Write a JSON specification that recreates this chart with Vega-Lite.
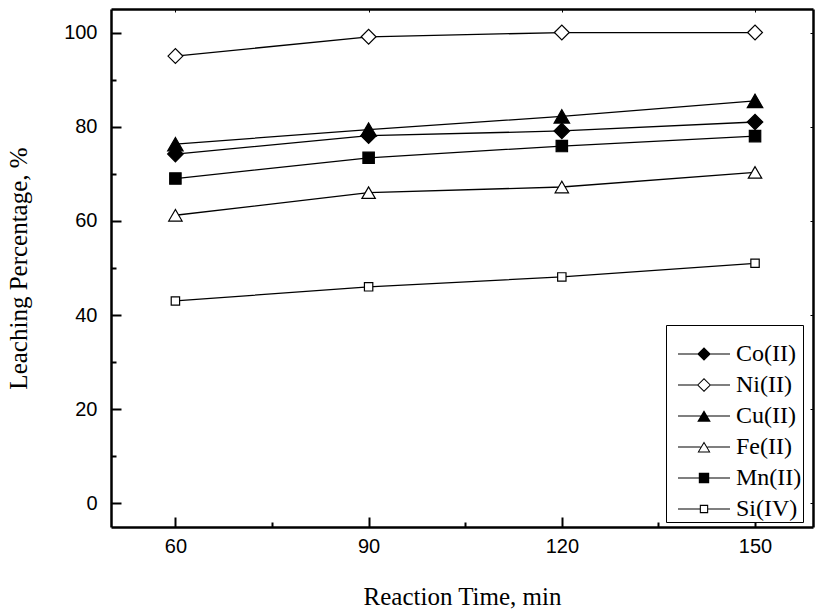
{
  "$schema": "https://vega.github.io/schema/vega-lite/v6.json",
  "width": 702,
  "height": 518,
  "autosize": {"type": "none"},
  "padding": {"left": 111, "top": 9, "right": 8, "bottom": 86},
  "background": "white",
  "config": {
    "view": {"stroke": null},
    "axis": {
      "labelColor": "black",
      "titleColor": "black",
      "domainColor": "black",
      "tickColor": "black",
      "grid": false,
      "titleFontWeight": "normal",
      "labelFont": "Liberation Sans",
      "titleFont": "Liberation Serif"
    }
  },
  "data": {
    "values": [
      {"series": "Co(II)", "time": 60, "value": 74.2},
      {"series": "Co(II)", "time": 90, "value": 78.1},
      {"series": "Co(II)", "time": 120, "value": 79.1},
      {"series": "Co(II)", "time": 150, "value": 81.0},
      {"series": "Ni(II)", "time": 60, "value": 95.0},
      {"series": "Ni(II)", "time": 90, "value": 99.1},
      {"series": "Ni(II)", "time": 120, "value": 100.0},
      {"series": "Ni(II)", "time": 150, "value": 100.0},
      {"series": "Cu(II)", "time": 60, "value": 76.3},
      {"series": "Cu(II)", "time": 90, "value": 79.4},
      {"series": "Cu(II)", "time": 120, "value": 82.2},
      {"series": "Cu(II)", "time": 150, "value": 85.5},
      {"series": "Fe(II)", "time": 60, "value": 61.2},
      {"series": "Fe(II)", "time": 90, "value": 66.0},
      {"series": "Fe(II)", "time": 120, "value": 67.2},
      {"series": "Fe(II)", "time": 150, "value": 70.3},
      {"series": "Mn(II)", "time": 60, "value": 69.0},
      {"series": "Mn(II)", "time": 90, "value": 73.4},
      {"series": "Mn(II)", "time": 120, "value": 75.9},
      {"series": "Mn(II)", "time": 150, "value": 78.0},
      {"series": "Si(IV)", "time": 60, "value": 43.0},
      {"series": "Si(IV)", "time": 90, "value": 46.0},
      {"series": "Si(IV)", "time": 120, "value": 48.1},
      {"series": "Si(IV)", "time": 150, "value": 51.0}
    ]
  },
  "resolve": {
    "axis": {"x": "independent", "y": "independent"},
    "scale": {"shape": "independent"},
    "legend": {"shape": "independent"}
  },
  "layer": [
    {
      "mark": {"type": "line", "stroke": "black", "strokeWidth": 1.3},
      "encoding": {
        "x": {
          "field": "time", "type": "quantitative",
          "scale": {"domain": [50, 159], "nice": false, "zero": false},
          "axis": {
            "orient": "bottom",
            "title": "Reaction Time, min",
            "values": [60, 75, 90, 105, 120, 135, 150],
            "labelExpr": "datum.value % 30 === 0 ? datum.label : ''",
            "tickSize": {"condition": {"test": "datum.value % 30 === 0", "value": -10}, "value": -5},
            "tickWidth": 2,
            "domainWidth": 2.5,
            "labelFontSize": 20,
            "labelPadding": 19,
            "labelFlush": false,
            "titleFontSize": 25,
            "titlePadding": 28
          }
        },
        "y": {
          "field": "value", "type": "quantitative",
          "scale": {"domain": [-5, 105], "nice": false, "zero": false},
          "axis": {
            "orient": "left",
            "title": "Leaching Percentage, %",
            "values": [0, 10, 20, 30, 40, 50, 60, 70, 80, 90, 100],
            "labelExpr": "datum.value % 20 === 0 ? datum.label : ''",
            "tickSize": {"condition": {"test": "datum.value % 20 === 0", "value": -10}, "value": -5},
            "tickWidth": 2,
            "domainWidth": 2.5,
            "labelFontSize": 20,
            "labelPadding": 24,
            "labelFlush": false,
            "titleFontSize": 25,
            "titlePadding": 32
          }
        },
        "detail": {"field": "series"}
      }
    },
    {
      "mark": {"type": "point", "filled": true, "stroke": "black", "strokeWidth": 1.2, "opacity": 1},
      "encoding": {
        "x": {
          "field": "time", "type": "quantitative",
          "axis": {
            "orient": "top",
            "title": null,
            "labels": false,
            "values": [60, 90, 120, 150],
            "tickSize": -3,
            "tickWidth": 1,
            "domainWidth": 2.5
          }
        },
        "y": {
          "field": "value", "type": "quantitative",
          "axis": {
            "orient": "right",
            "title": null,
            "labels": false,
            "values": [0, 20, 40, 60, 80, 100],
            "tickSize": -3,
            "tickWidth": 1,
            "domainWidth": 2.5
          }
        },
        "shape": {
          "field": "series", "type": "nominal",
          "scale": {
            "domain": ["Co(II)", "Ni(II)", "Cu(II)", "Fe(II)", "Mn(II)", "Si(IV)"],
            "range": ["diamond", "diamond", "triangle-up", "triangle-up", "square", "square"]
          },
          "legend": null
        },
        "fill": {
          "field": "series", "type": "nominal",
          "scale": {
            "domain": ["Ni(II)", "Fe(II)", "Si(IV)", "Co(II)", "Cu(II)", "Mn(II)"],
            "range": ["white", "white", "white", "black", "black", "black"]
          },
          "legend": null
        },
        "size": {
          "field": "series", "type": "nominal",
          "scale": {
            "type": "ordinal",
            "domain": ["Si(IV)", "Mn(II)", "Fe(II)", "Cu(II)", "Ni(II)", "Co(II)"],
            "range": [70, 130, 180, 240, 220, 240]
          },
          "legend": null
        }
      }
    },
    {
      "transform": [{"filter": "false"}],
      "mark": {"type": "point", "filled": true, "fill": "black", "stroke": "black", "strokeWidth": 1.2},
      "encoding": {
        "x": {"field": "time", "type": "quantitative", "axis": null},
        "y": {"field": "value", "type": "quantitative", "axis": null},
        "shape": {
          "field": "series", "type": "nominal",
          "scale": {
            "domain": ["Co(II)", "Ni(II)", "Cu(II)", "Fe(II)", "Mn(II)", "Si(IV)"],
            "range": [
              "M-2.6,-0.06H-0.6V0.06H-2.6ZM0.6,-0.06H2.6V0.06H0.6ZM0,-0.68L0.68,0L0,0.68L-0.68,0Z",
              "M-2.6,-0.06H-0.66V0.06H-2.6ZM0.66,-0.06H2.6V0.06H0.66ZM0,-0.7L0.7,0L0,0.7L-0.7,0ZM0,-0.56L-0.56,0L0,0.56L0.56,0Z",
              "M-2.6,-0.06H-0.3V0.06H-2.6ZM0.3,-0.06H2.6V0.06H0.3ZM0,-0.58L0.68,0.58L-0.68,0.58Z",
              "M-2.6,-0.06H-0.34V0.06H-2.6ZM0.34,-0.06H2.6V0.06H0.34ZM0,-0.56L0.65,0.56L-0.65,0.56ZM0,-0.36L-0.48,0.46L0.48,0.46Z",
              "M-2.6,-0.06H-0.5V0.06H-2.6ZM0.5,-0.06H2.6V0.06H0.5ZM-0.52,-0.52H0.52V0.52H-0.52Z",
              "M-2.6,-0.06H-0.42V0.06H-2.6ZM0.42,-0.06H2.6V0.06H0.42ZM-0.42,-0.42H0.42V0.42H-0.42ZM-0.31,-0.31V0.31H0.31V-0.31Z"
            ]
          },
          "legend": {
            "orient": "none",
            "legendX": 555,
            "legendY": 316,
            "title": " ",
            "titleFontSize": 11,
            "titlePadding": 5,
            "padding": 1,
            "strokeColor": "black",
            "fillColor": "white",
            "labelFont": "Liberation Serif",
            "labelFontSize": 24,
            "labelColor": "black",
            "labelOffset": 20,
            "symbolOffset": 25,
            "rowPadding": 7,
            "symbolSize": 400,
            "symbolOpacity": 1,
            "symbolFillColor": "black",
            "symbolStrokeColor": "black",
            "symbolStrokeWidth": 1.2
          }
        }
      }
    }
  ]
}
